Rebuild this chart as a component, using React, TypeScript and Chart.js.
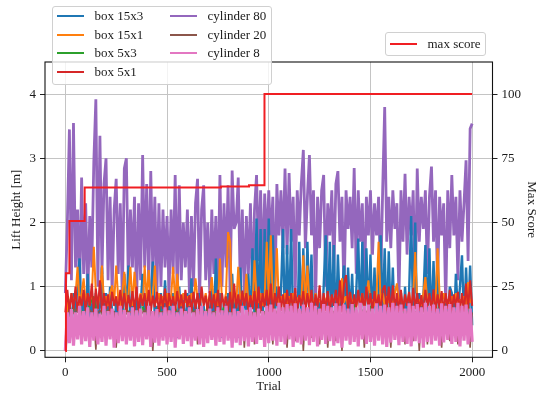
import React, { useEffect, useRef } from "react";
import { Chart, registerables } from "chart.js";

Chart.register(...registerables);

// ---------- data ----------
const TRIAL_STEP = 10; // spacing (in trials) between the sampled values below
const GREEN_STEP = 20;
const xTickValues = [0, 500, 1000, 1500, 2000];
const leftTickValues = [0, 1, 2, 3, 4];
const rightTickValues = [0, 25, 50, 75, 100];

const seriesLabels = ["box 15x3", "box 15x1", "box 5x3", "box 5x1", "cylinder 80", "cylinder 20", "cylinder 8"];
const scoreLabel = "max score";

// box 15x3 (blue)
const box15x3 = [
  0.0, 0.4, 0.8, 0.3, 0.9, 0.5, 1.1, 1.44, 0.4, 0.9,
  0.3, 1.2, 0.5, 0.8, 0.2, 0.9, 0.4, 0.7, 1.3, 0.5,
  0.9, 0.3, 1.0, 0.6, 0.2, 0.8, 0.5, 0.9, 0.3, 1.2,
  0.6, 1.33, 0.4, 0.8, 0.2, 0.9, 0.5, 0.7, 1.2, 0.4,
  0.8, 0.3, 0.9, 1.39, 0.5, 0.7, 0.2, 0.9, 0.4, 1.1,
  0.5, 0.8, 0.3, 0.9, 0.6, 0.2, 1.0, 0.4, 0.8, 0.3,
  0.9, 0.5, 1.13, 0.3, 0.8, 0.2, 0.9, 0.5, 0.7, 0.3,
  0.8, 0.4, 1.0, 0.3, 1.44, 0.6, 0.9, 0.2, 0.8, 0.5,
  0.9, 0.3, 1.2, 0.5, 0.8, 0.2, 1.3, 0.4, 0.9, 0.6,
  1.2, 0.3, 1.6, 0.5, 2.06, 0.4, 1.9, 0.3, 1.9, 0.5,
  2.06, 0.3, 1.8, 0.6, 1.0, 0.4, 0.9, 1.9, 0.3, 1.65,
  0.5, 1.9, 0.4, 0.8, 0.2, 1.7, 0.4, 1.6, 0.3, 1.7,
  0.6, 1.5, 0.3, 0.9, 0.4, 0.8, 0.2, 1.0, 1.8, 0.4,
  1.7, 0.5, 1.65, 0.3, 1.5, 0.6, 0.9, 1.33, 0.4, 1.3,
  0.5, 1.2, 0.3, 0.9, 1.75, 0.4, 1.7, 0.3, 1.6, 0.5,
  1.5, 0.4, 1.3, 0.3, 0.9, 1.8, 0.5, 1.6, 0.3, 1.55,
  0.4, 1.3, 0.3, 0.8, 0.5, 0.9, 0.2, 1.0, 0.4, 0.9,
  2.1, 0.5, 2.0, 0.3, 0.9, 0.5, 0.8, 1.65, 0.4, 1.6,
  0.3, 1.4, 0.5, 1.45, 0.3, 0.9, 0.4, 0.8, 0.3, 1.0,
  0.9, 0.3, 1.2, 0.6, 1.0, 1.49, 0.4, 1.3, 0.5, 1.33,
  0.4,
];

// box 15x1 (orange)
const box15x1 = [
  0.0, 0.8, 0.7, 0.9, 0.75, 0.85, 1.31, 0.7, 0.9, 1.13,
  0.75, 0.9, 0.7, 0.85, 1.62, 0.9, 0.7, 0.88, 1.33, 0.75,
  0.85, 0.7, 0.9, 1.02, 0.75, 1.33, 0.8, 0.7, 0.9, 1.23,
  0.75, 0.85, 1.31, 0.7, 1.23, 0.85, 0.75, 0.9, 0.7, 1.33,
  0.8, 1.26, 0.7, 0.85, 1.33, 0.75, 0.9, 0.7, 0.85, 0.75,
  0.9, 0.7, 0.85, 1.31, 0.75, 1.2, 0.8, 0.7, 0.9, 0.75,
  0.85, 0.7, 0.9, 0.75, 1.13, 0.8, 0.7, 0.88, 0.75, 0.9,
  0.7, 0.85, 1.15, 0.75, 0.9, 0.7, 1.44, 0.8, 0.75, 0.9,
  1.85, 1.7, 0.75, 0.85, 0.7, 1.31, 0.8, 0.9, 0.7, 1.2,
  0.75, 0.85, 0.7, 1.41, 0.8, 0.75, 0.9, 0.7, 0.85, 1.7,
  0.8, 1.8, 0.75, 0.9, 1.6, 0.7, 0.85, 0.75, 0.9, 0.7,
  0.85, 0.75, 0.9, 0.7, 0.8, 0.85, 0.75, 1.49, 0.7, 1.33,
  0.75, 0.85, 0.7, 0.9, 0.75, 0.8, 0.7, 0.85, 0.75, 0.9,
  0.7, 0.85, 0.75, 0.9, 0.7, 0.8, 1.13, 0.75, 0.85, 0.7,
  0.9, 0.75, 0.8, 0.7, 0.85, 0.75, 0.9, 0.7, 0.85, 1.1,
  0.75, 0.8, 0.7, 0.85, 1.7, 0.75, 0.9, 0.7, 0.85, 0.75,
  0.8, 0.7, 0.9, 1.05, 0.75, 0.85, 0.7, 0.8, 0.75, 0.9,
  0.7, 0.85, 1.54, 0.75, 0.8, 0.7, 0.9, 1.15, 0.75, 0.85,
  0.7, 0.8, 0.75, 1.6, 0.85, 0.7, 0.9, 0.75, 0.8, 0.7,
  0.85, 0.75, 0.9, 0.7, 0.8, 0.75, 0.85, 0.7, 1.07, 0.75,
  0.8,
];

// box 5x3 (green) – sampled every 20 trials
const box5x3 = [
  0.0, 0.52, 0.68, 0.41, 0.63, 0.35, 0.72, 0.85, 0.47, 0.6,
  0.38, 0.66, 0.31, 0.58, 0.5, 0.7, 0.43, 0.62, 0.28, 0.69,
  0.53, 0.6, 0.37, 0.73, 0.33, 0.57, 0.48, 0.71, 0.42, 0.64,
  0.3, 0.68, 0.51, 0.59, 0.39, 0.74, 0.32, 0.61, 0.46, 0.7,
  0.4, 0.63, 0.29, 0.72, 0.49, 0.58, 0.44, 0.69, 0.34, 0.62,
  0.52, 0.75, 0.38, 0.6, 0.31, 0.67, 0.47, 0.63, 0.41, 0.71,
  0.27, 0.59, 0.5, 0.74, 0.36, 0.62, 0.33, 0.68, 0.45, 0.6,
  0.4, 0.72, 0.3, 0.64, 0.48, 0.7, 0.37, 0.61, 0.32, 0.73,
  0.46, 0.6, 0.39, 0.69, 0.28, 0.65, 0.51, 0.71, 0.43, 0.58,
  0.35, 0.74, 0.49, 0.62, 0.38, 0.7, 0.3, 0.66, 0.47, 0.72,
  0.4,
];

// box 5x1 (red)
const box5x1 = [
  0.6, 0.95, 0.6, 0.9, 0.65, 1.0, 0.6, 0.85, 0.7, 0.95,
  0.62, 0.9, 0.7, 1.05, 0.6, 0.97, 0.65, 1.1, 0.6, 0.9,
  0.65, 0.88, 0.6, 0.92, 0.7, 0.85, 0.62, 0.95, 0.66, 0.9,
  0.6, 0.87, 0.68, 0.93, 0.62, 1.0, 0.6, 0.88, 0.7, 0.9,
  0.63, 0.95, 0.6, 0.86, 0.68, 0.92, 0.6, 0.88, 0.65, 0.97,
  0.6, 0.9, 0.7, 0.85, 0.62, 0.93, 0.66, 0.88, 0.6, 0.95,
  0.68, 0.87, 0.6, 0.92, 0.65, 0.9, 0.62, 1.0, 0.7, 0.86,
  0.6, 0.93, 0.66, 0.88, 0.62, 0.95, 0.6, 0.9, 0.68, 0.85,
  0.62, 0.92, 0.6, 1.05, 0.66, 0.88, 0.6, 0.94, 0.7, 0.9,
  0.6, 0.87, 0.65, 0.93, 0.62, 1.0, 0.6, 0.9, 0.68, 0.95,
  0.62, 1.05, 0.6, 0.9, 0.7, 1.0, 0.62, 0.88, 0.6, 0.95,
  0.66, 0.9, 0.6, 0.98, 0.62, 0.87, 0.7, 0.93, 0.6, 0.9,
  0.65, 0.95, 0.6, 0.88, 0.68, 1.02, 0.6, 0.9, 0.62, 0.93,
  0.6, 0.88, 0.7, 0.95, 0.62, 1.1, 0.6, 1.05, 1.18, 0.65,
  0.92, 0.6, 0.88, 0.66, 0.95, 0.6, 0.9, 0.62, 1.0, 0.65,
  0.9, 0.6, 0.93, 0.68, 0.88, 0.6, 0.95, 1.02, 0.62, 1.0,
  0.6, 1.02, 0.66, 0.9, 0.6, 0.95, 0.62, 0.88, 0.7, 0.92,
  0.6, 0.98, 0.65, 0.9, 0.62, 0.87, 0.6, 0.95, 0.68, 0.9,
  0.62, 0.96, 0.6, 0.88, 0.66, 0.93, 0.6, 0.9, 0.65, 0.95,
  0.6, 0.88, 0.68, 0.92, 0.62, 0.9, 0.6, 1.05, 0.65, 1.1,
  0.7,
];

// cylinder 80 (purple)
const cylinder80 = [
  0.9, 2.0, 3.45, 1.1, 3.55, 1.3, 2.2, 0.9, 2.7, 1.2,
  2.3, 0.8, 2.1, 1.3, 2.95, 3.92, 1.0, 3.35, 1.2, 2.6,
  3.0, 1.1, 2.4, 0.9, 2.2, 2.68, 1.2, 2.3, 0.8, 2.84,
  3.0, 1.0, 2.2, 1.3, 2.4, 0.7, 2.3, 1.1, 3.05, 1.3,
  2.6, 1.0, 2.8, 1.2, 2.4, 0.9, 2.3, 1.0, 2.2, 1.3,
  2.1, 0.9, 2.2, 1.2, 2.74, 0.8, 2.58, 1.1, 2.0, 1.3,
  2.2, 0.9, 2.1, 1.0, 2.3, 2.68, 0.8, 2.2, 2.58, 1.1,
  2.0, 0.9, 2.2, 1.2, 2.1, 0.8, 2.74, 1.0, 2.3, 1.3,
  2.58, 0.9, 2.81, 1.9, 2.0, 2.7, 1.0, 2.2, 0.8, 2.1,
  1.2, 2.3, 0.9, 2.2, 2.74, 1.4, 2.5, 1.1, 2.45, 1.6,
  2.5, 1.7, 2.4, 0.8, 2.6, 1.8, 2.5, 1.6, 2.84, 1.5,
  2.77, 1.7, 2.4, 0.9, 2.5, 1.8, 2.6, 3.13, 1.6, 2.4,
  3.05, 1.8, 2.5, 0.7, 2.4, 1.6, 2.5, 2.74, 1.0, 2.3,
  1.8, 2.5, 1.2, 2.6, 2.8, 1.7, 2.4, 0.8, 2.5, 1.9,
  2.4, 1.6, 2.85, 1.2, 2.5, 1.7, 2.3, 0.9, 2.4, 1.8,
  2.5, 1.5, 2.3, 1.8, 2.4, 1.0, 2.5, 3.8, 1.7, 2.4,
  1.6, 2.5, 1.9, 2.3, 0.8, 2.5, 1.7, 2.76, 1.5, 2.4,
  1.8, 2.5, 0.9, 2.84, 1.7, 2.4, 1.9, 2.5, 1.2, 2.4,
  2.87, 1.7, 2.5, 1.0, 2.4, 1.8, 2.3, 0.7, 2.5, 1.6,
  2.74, 1.8, 2.4, 1.1, 2.5, 1.7, 2.3, 2.97, 1.4, 3.46,
  3.54,
];

// cylinder 20 (brown)
const cylinder20 = [
  0.0, 0.55, 0.6, 0.62, 0.58, 0.65, 0.6, 0.63, 0.57, 0.6,
  0.62, 0.58, 0.64, 0.6, 0.55, 0.02, 0.6, 0.63, 0.58, 0.61,
  0.6, 0.64, 0.57, 0.6, 0.62, 0.05, 0.6, 0.58, 0.63, 0.6,
  0.57, 0.62, 0.6, 0.64, 0.58, 0.6, 0.62, 0.57, 0.6, 0.63,
  0.6, 0.58, 0.62, 0.0, 0.6, 0.63, 0.57, 0.6, 0.62, 0.6,
  0.58, 0.63, 0.6, 0.62, 0.57, 0.6, 0.64, 0.6, 0.58, 0.62,
  0.6, 0.57, 0.62, 0.6, 0.63, 0.1, 0.6, 0.58, 0.62, 0.6,
  0.63, 0.58, 0.6, 0.62, 0.57, 0.6, 0.15, 0.62, 0.6, 0.58,
  0.62, 0.6, 0.57, 0.63, 0.6, 0.58, 0.62, 0.6, 0.05, 0.6,
  0.58, 0.62, 0.6, 0.1, 0.63, 0.57, 0.6, 0.62, 0.58, 0.6,
  0.62, 0.6, 0.1, 0.65, 0.58, 0.62, 0.2, 0.6, 0.63, 0.05,
  0.6, 0.62, 0.58, 0.15, 0.64, 0.6, 0.62, 0.0, 0.6, 0.63,
  0.58, 0.2, 0.62, 0.6, 0.64, 0.1, 0.6, 0.62, 0.58, 0.05,
  0.6, 0.63, 0.6, 0.15, 0.62, 0.58, 0.0, 0.62, 0.6, 0.64,
  0.1, 0.6, 0.62, 0.58, 0.2, 0.63, 0.6, 0.05, 0.62, 0.6,
  0.64, 0.6, 0.1, 0.62, 0.58, 0.6, 0.15, 0.63, 0.6, 0.62,
  0.05, 0.6, 0.64, 0.62, 0.2, 0.6, 0.58, 0.1, 0.62, 0.6,
  0.63, 0.15, 0.6, 0.62, 0.0, 0.58, 0.64, 0.6, 0.1, 0.62,
  0.6, 0.62, 0.2, 0.6, 0.58, 0.05, 0.63, 0.6, 0.62, 0.15,
  0.6, 0.64, 0.58, 0.1, 0.62, 0.6, 0.2, 0.63, 0.6, 0.05,
  0.6,
];

// cylinder 8 (pink)
const cylinder8 = [
  0.0, 0.6, 0.12, 0.65, 0.08, 0.6, 0.18, 0.7, 0.1, 0.62,
  0.15, 0.68, 0.06, 0.6, 0.16, 0.66, 0.1, 0.58, 0.14, 0.7,
  0.08, 0.62, 0.18, 0.66, 0.05, 0.6, 0.12, 0.7, 0.15, 0.64,
  0.1, 0.6, 0.16, 0.68, 0.07, 0.63, 0.14, 0.66, 0.09, 0.6,
  0.18, 0.7, 0.06, 0.62, 0.13, 0.65, 0.08, 0.6, 0.16, 0.68,
  0.1, 0.63, 0.14, 0.7, 0.05, 0.6, 0.18, 0.66, 0.11, 0.62,
  0.15, 0.68, 0.07, 0.6, 0.16, 0.65, 0.1, 0.7, 0.06, 0.62,
  0.12, 0.66, 0.17, 0.6, 0.08, 0.68, 0.14, 0.63, 0.1, 0.7,
  0.16, 0.6, 0.05, 0.66, 0.13, 0.62, 0.09, 0.7, 0.15, 0.64,
  0.07, 0.68, 0.14, 0.6, 0.11, 0.66, 0.17, 0.62, 0.06, 0.7,
  0.12, 0.72, 0.16, 0.66, 0.08, 0.75, 0.14, 0.68, 0.1, 0.73,
  0.18, 0.7, 0.06, 0.74, 0.13, 0.66, 0.1, 0.72, 0.16, 0.68,
  0.09, 0.75, 0.14, 0.7, 0.07, 0.66, 0.17, 0.73, 0.11, 0.7,
  0.15, 0.68, 0.08, 0.74, 0.12, 0.7, 0.05, 0.72, 0.16, 0.66,
  0.1, 0.73, 0.14, 0.68, 0.07, 0.75, 0.18, 0.7, 0.11, 0.72,
  0.14, 0.66, 0.08, 0.74, 0.16, 0.7, 0.1, 0.72, 0.06, 0.68,
  0.13, 0.75, 0.17, 0.7, 0.09, 0.72, 0.14, 0.66, 0.11, 0.74,
  0.07, 0.7, 0.15, 0.73, 0.12, 0.68, 0.05, 0.75, 0.14, 0.7,
  0.1, 0.72, 0.16, 0.66, 0.08, 0.74, 0.13, 0.7, 0.17, 0.73,
  0.11, 0.68, 0.14, 0.75, 0.07, 0.7, 0.16, 0.72, 0.1, 0.66,
  0.14,
];

// max score (right axis): trial where each new max was reached, and the score
const scoreTrials = [0, 3, 20, 95, 765, 903, 979, 2000];
const maxScores = [0, 30.2, 50.6, 63.6, 64.0, 64.5, 100, 100];

// ---------- styles ----------
const COLORS = ["#1f77b4", "#ff7f0e", "#2ca02c", "#d62728", "#9467bd", "#8c564b", "#e377c2"];
const WIDTHS = [2.4, 2.0, 1.6, 2.0, 2.8, 1.6, 3.2];
const SCORE_COLOR = "#f01e23";
const FONT_FAMILY = '"Liberation Serif", "Times New Roman", Times, serif';
const TEXT_COLOR = "#1a1a1a";

function toPoints(values: number[], step: number) {
  return values.map((y, i) => ({ x: i * step, y }));
}

const framePlugin = {
  id: "frame",
  afterDatasetsDraw(chart: any) {
    const { ctx, chartArea } = chart;
    ctx.save();
    ctx.strokeStyle = "#111";
    ctx.lineWidth = 1.1;
    ctx.strokeRect(chartArea.left, chartArea.top, chartArea.right - chartArea.left, chartArea.bottom - chartArea.top);
    ctx.restore();
  },
};

function LegendLine({ left, top, color, width }: { left: number; top: number; color: string; width: number }) {
  return (
    <div
      style={{
        position: "absolute",
        left,
        top: top - 1,
        width,
        height: 2,
        background: color,
      }}
    />
  );
}

function LegendText({ left, top, text }: { left: number; top: number; text: string }) {
  return (
    <div
      style={{
        position: "absolute",
        left,
        top: top - 9,
        height: 18,
        lineHeight: "18px",
        fontFamily: FONT_FAMILY,
        fontSize: 13,
        color: TEXT_COLOR,
        whiteSpace: "nowrap",
      }}
    >
      {text}
    </div>
  );
}

export default function App() {
  const canvasRef = useRef<HTMLCanvasElement | null>(null);

  useEffect(() => {
    if (!canvasRef.current) return;
    const font = { family: FONT_FAMILY, size: 13 };
    // listed top-most first (Chart.js draws the first dataset last)
    const lineSeries = [
      { values: cylinder8, step: TRIAL_STEP, idx: 6 },
      { values: cylinder20, step: TRIAL_STEP, idx: 5 },
      { values: box5x1, step: TRIAL_STEP, idx: 3 },
      { values: box5x3, step: GREEN_STEP, idx: 2 },
      { values: box15x1, step: TRIAL_STEP, idx: 1 },
      { values: box15x3, step: TRIAL_STEP, idx: 0 },
      { values: cylinder80, step: TRIAL_STEP, idx: 4 },
    ];
    const datasets: any[] = [
      {
        label: scoreLabel,
        data: scoreTrials.map((x, i) => ({ x, y: maxScores[i] })),
        yAxisID: "y1",
        borderColor: SCORE_COLOR,
        borderWidth: 2,
        stepped: "before",
        pointRadius: 0,
      },
      ...lineSeries.map((s) => ({
        label: seriesLabels[s.idx],
        data: toPoints(s.values, s.step),
        yAxisID: "y",
        borderColor: COLORS[s.idx],
        borderWidth: WIDTHS[s.idx],
        borderJoinStyle: "bevel",
        pointRadius: 0,
      })),
    ];

    const chart = new Chart(canvasRef.current, {
      type: "line",
      data: { datasets },
      options: {
        animation: false,
        responsive: false,
        devicePixelRatio: 1,
        events: [],
        layout: { padding: { top: 62, left: 0, right: 0, bottom: 0 } },
        elements: { line: { tension: 0 }, point: { radius: 0 } },
        plugins: { legend: { display: false }, tooltip: { enabled: false }, title: { display: false } },
        scales: {
          x: {
            type: "linear",
            min: -100,
            max: 2100,
            afterBuildTicks: (s: any) => {
              s.ticks = xTickValues.map((v) => ({ value: v }));
            },
            afterFit: (s: any) => {
              s.height = 37.7;
            },
            grid: { color: "#c4c4c4", lineWidth: 1, tickColor: "#222", tickLength: 5 },
            border: { display: false },
            ticks: { font, color: TEXT_COLOR, padding: 2, maxRotation: 0, callback: (v: any) => String(v) },
            title: { display: true, text: "Trial", font, color: TEXT_COLOR, padding: { top: 0, bottom: 1 } },
          },
          y: {
            type: "linear",
            position: "left",
            min: -0.1,
            max: 4.5,
            afterBuildTicks: (s: any) => {
              s.ticks = leftTickValues.map((v) => ({ value: v }));
            },
            afterFit: (s: any) => {
              s.width = 45;
            },
            grid: { color: "#c4c4c4", lineWidth: 1, tickColor: "#222", tickLength: 5 },
            border: { display: false },
            ticks: { font, color: TEXT_COLOR, padding: 4, callback: (v: any) => String(v) },
            title: { display: true, text: "Lift Height [m]", font, color: TEXT_COLOR, padding: { top: 9, bottom: 0 } },
          },
          y1: {
            type: "linear",
            position: "right",
            min: -2.5,
            max: 112.5,
            afterBuildTicks: (s: any) => {
              s.ticks = rightTickValues.map((v) => ({ value: v }));
            },
            afterFit: (s: any) => {
              s.width = 50.5;
            },
            grid: { drawOnChartArea: false, tickColor: "#222", tickLength: 5 },
            border: { display: false },
            ticks: { font, color: TEXT_COLOR, padding: 4, callback: (v: any) => String(v) },
            title: { display: true, text: "Max Score", font, color: TEXT_COLOR, padding: { top: 4, bottom: 0 } },
          },
        },
      },
      plugins: [framePlugin],
    } as any);
    return () => chart.destroy();
  }, []);

  const leftRows = [16, 34.5, 53, 71.5];
  const legendItems = [
    { label: seriesLabels[0], color: COLORS[0], col: 0, row: 0 },
    { label: seriesLabels[1], color: COLORS[1], col: 0, row: 1 },
    { label: seriesLabels[2], color: COLORS[2], col: 0, row: 2 },
    { label: seriesLabels[3], color: COLORS[3], col: 0, row: 3 },
    { label: seriesLabels[4], color: COLORS[4], col: 1, row: 0 },
    { label: seriesLabels[5], color: COLORS[5], col: 1, row: 1 },
    { label: seriesLabels[6], color: COLORS[6], col: 1, row: 2 },
  ];
  const colLine = [57, 169.5];
  const colText = [94.5, 207.5];

  return (
    <div style={{ position: "fixed", left: 0, top: 0, width: 543, height: 395, background: "#fff", overflow: "hidden" }}>
      <canvas ref={canvasRef} width={543} height={395} style={{ position: "absolute", left: 0, top: 0, width: 543, height: 395 }} />
      <div
        style={{
          position: "absolute",
          left: 52,
          top: 6,
          width: 220,
          height: 79,
          boxSizing: "border-box",
          border: "1px solid #d0d0d0",
          borderRadius: 3,
          background: "rgba(255,255,255,0.8)",
        }}
      />
      {legendItems.map((it) => (
        <React.Fragment key={it.label}>
          <LegendLine left={colLine[it.col]} top={leftRows[it.row]} color={it.color} width={27} />
          <LegendText left={colText[it.col]} top={leftRows[it.row]} text={it.label} />
        </React.Fragment>
      ))}
      <div
        style={{
          position: "absolute",
          left: 385,
          top: 32,
          width: 101,
          height: 24,
          boxSizing: "border-box",
          border: "1px solid #d0d0d0",
          borderRadius: 3,
          background: "rgba(255,255,255,0.8)",
        }}
      />
      <LegendLine left={389.5} top={43.5} color={SCORE_COLOR} width={27} />
      <LegendText left={427.5} top={43.5} text={scoreLabel} />
    </div>
  );
}
